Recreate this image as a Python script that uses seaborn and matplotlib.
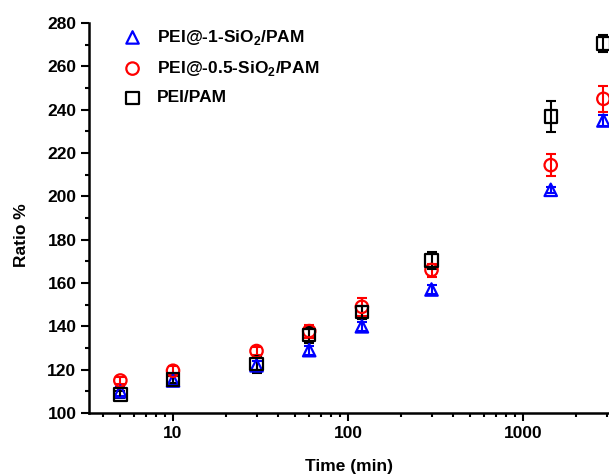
import numpy as np
import pandas as pd
import matplotlib
matplotlib.use("Agg")
import matplotlib.pyplot as plt
import seaborn as sns
from matplotlib.ticker import MultipleLocator, LogLocator, NullFormatter

# Data
time_min = [5, 10, 30, 60, 120, 300, 1440, 2880]

si1_ratio = [110, 115, 122, 129, 140, 157, 203, 235]
si1_err = [2, 2, 2, 2, 2, 2, 1.5, 2.5]

si05_ratio = [115, 119.5, 128.6, 137.8, 149, 166, 214.4, 245]
si05_err = [1.5, 2, 2, 3, 4, 3, 5, 6]

pei_ratio = [108.5, 115.5, 122.5, 136, 146.5, 170.3, 236.8, 270.6]
pei_err = [1.5, 1.5, 4, 3.5, 3, 4, 7, 4]

labels = [r"PEI@-1-SiO$_\mathbf{2}$/PAM", r"PEI@-0.5-SiO$_\mathbf{2}$/PAM", "PEI/PAM"]
colors = ["#0000ff", "#ff0000", "#000000"]
markers = ["^", "o", "s"]

sns.set_style("ticks", {"axes.edgecolor": "black", "text.color": "black",
                        "axes.labelcolor": "black", "xtick.color": "black",
                        "ytick.color": "black"})
plt.rcParams["font.family"] = ["Liberation Sans", "DejaVu Sans"]
plt.rcParams["font.weight"] = "bold"
plt.rcParams["mathtext.fontset"] = "custom"
plt.rcParams["mathtext.rm"] = "Liberation Sans:bold"
plt.rcParams["mathtext.bf"] = "Liberation Sans:bold"

fig = plt.figure(figsize=(6.09, 4.75), dpi=100)
ax = fig.add_axes([89 / 609, 1 - 413 / 475, 520 / 609, 390 / 475])

series = [
    (si1_ratio, si1_err),
    (si05_ratio, si05_err),
    (pei_ratio, pei_err),
]

for (vals, errs), lab, col, mk in zip(series, labels, colors, markers):
    df = pd.DataFrame({"time": time_min, "ratio": vals})
    ax.errorbar(df["time"], df["ratio"], yerr=errs, fmt="none", ecolor=col,
                elinewidth=1.5, capsize=3.5, capthick=1.5, zorder=2)
    sns.scatterplot(data=df, x="time", y="ratio", ax=ax, marker=mk, s=80,
                    facecolor="none", edgecolor=col, linewidth=1.6,
                    label=lab, zorder=3)

ax.set_xscale("log")
ax.set_xlim(3.31, 3100)
ax.set_ylim(100, 280)
ax.yaxis.set_major_locator(MultipleLocator(20))
ax.yaxis.set_minor_locator(MultipleLocator(10))
ax.xaxis.set_minor_locator(LogLocator(base=10, subs=np.arange(2, 10), numticks=10))
ax.xaxis.set_minor_formatter(NullFormatter())
ax.set_xticks([10, 100, 1000])
ax.set_xticklabels(["10", "100", "1000"])

ax.tick_params(axis="both", which="major", direction="out", length=6, width=1.5,
               labelsize=12.5, pad=3, color="black", labelcolor="black")
ax.tick_params(axis="both", which="minor", direction="out", length=3, width=1.5,
               color="black")
for lab in ax.get_xticklabels() + ax.get_yticklabels():
    lab.set_fontweight("bold")

for side in ["top", "right"]:
    ax.spines[side].set_visible(False)
for side in ["left", "bottom"]:
    ax.spines[side].set_linewidth(1.8)
    ax.spines[side].set_color("black")

ax.set_xlabel("Time (min)", fontsize=12.5, fontweight="bold", labelpad=13,
              color="black")
ax.set_ylabel("Ratio %", fontsize=12.5, fontweight="bold", color="black")
ax.yaxis.set_label_coords(-0.115, 0.456)

leg = ax.legend(loc="upper left", bbox_to_anchor=(0.037, 1.005), frameon=False,
                fontsize=12.5, handletextpad=0.4, labelspacing=0.7,
                borderaxespad=0.0)
for t in leg.get_texts():
    t.set_fontweight("bold")
    t.set_color("black")

fig.savefig("out.png", dpi=100)
